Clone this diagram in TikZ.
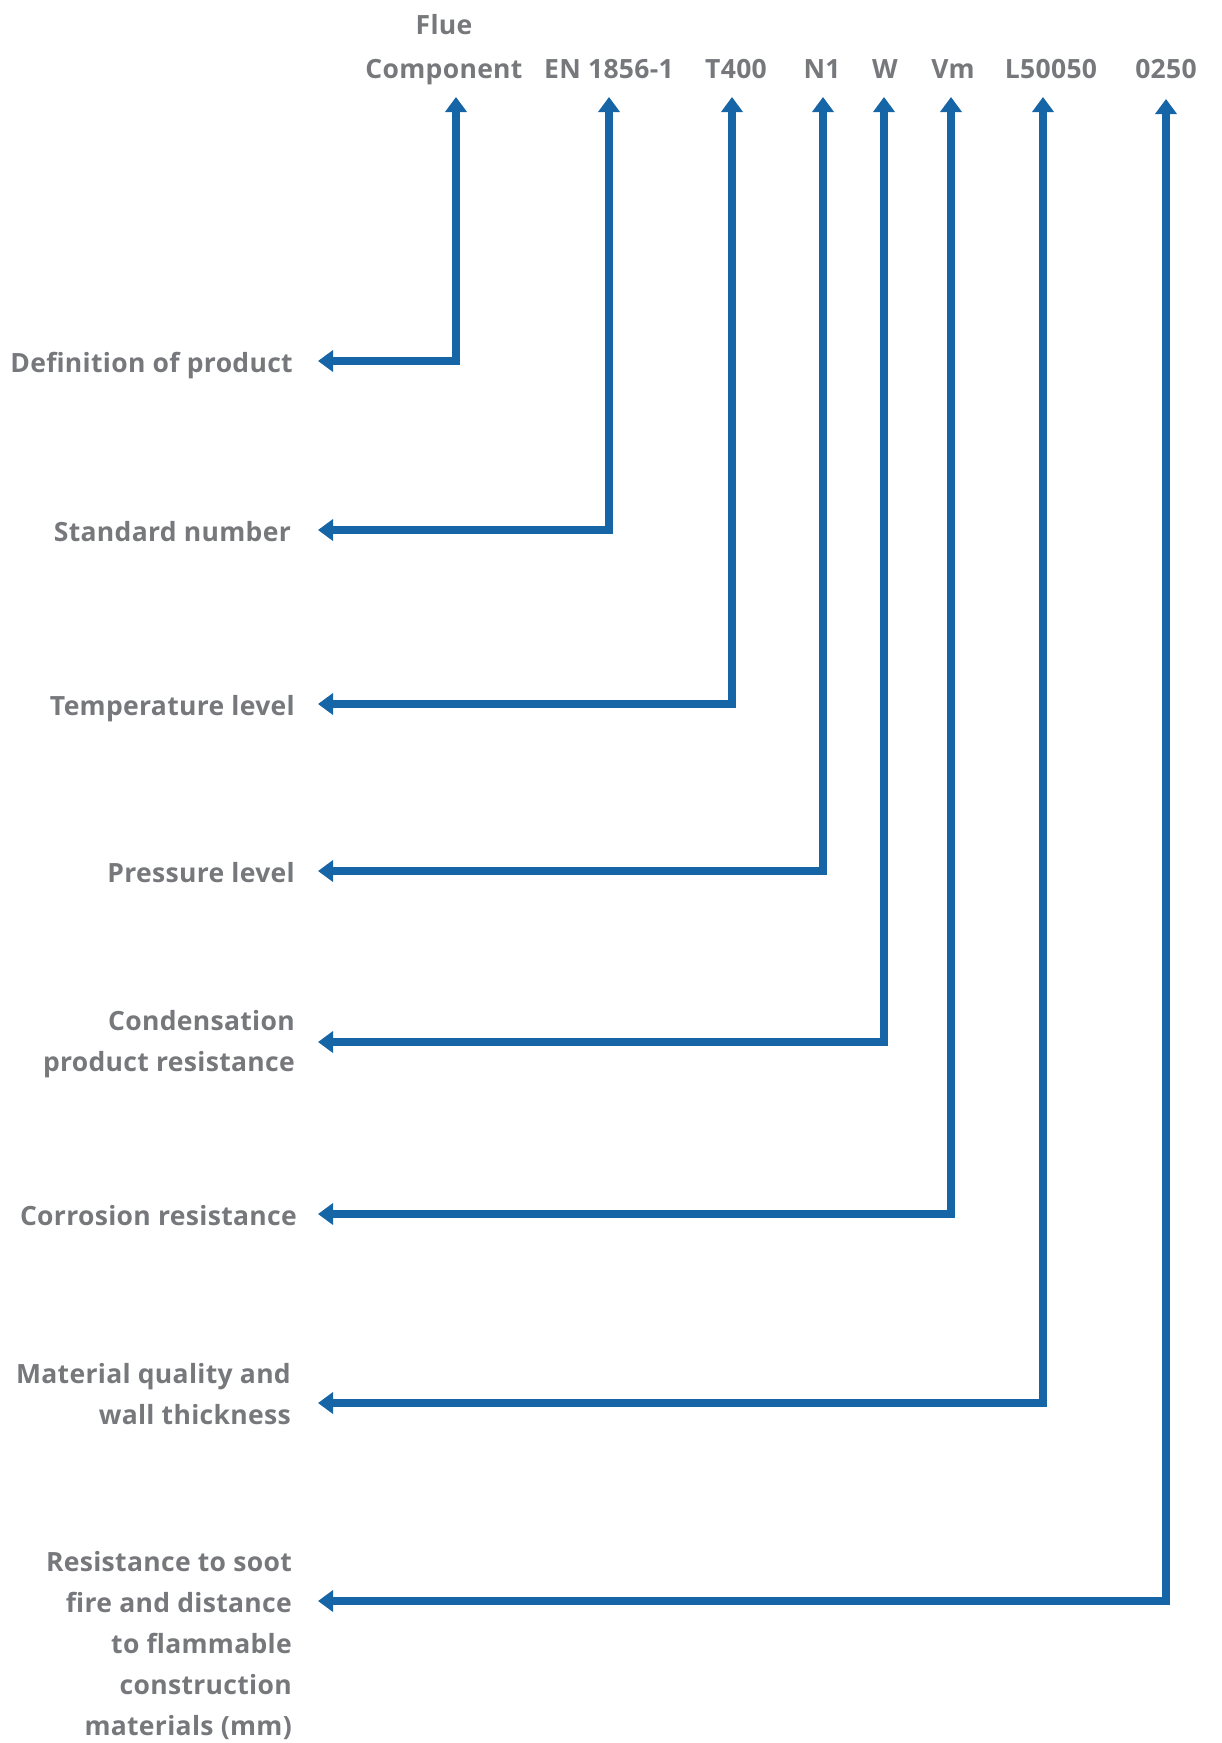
\documentclass[tikz,border=0pt]{standalone}
\usepackage{fontspec}
\setmainfont{Open Sans}[LetterSpace=1.2]
\usetikzlibrary{arrows.meta}
\definecolor{fblue}{HTML}{1666A7}
\definecolor{fgray}{HTML}{76787C}
\begin{document}
\begin{tikzpicture}[x=1pt,y=-1pt,
  conn/.style={draw=fblue, line width=8.5pt,
    {Triangle[length=15pt,width=21pt]}-{Triangle[length=15pt,width=21pt]}},
  lab/.style={text=fgray, font=\fontsize{26.5}{41}\selectfont\bfseries,
    inner sep=0pt, align=right, anchor=base east},
  code/.style={text=fgray, font=\fontsize{26.5}{44}\selectfont\bfseries,
    inner sep=0pt, anchor=base}]
\useasboundingbox (0,0) rectangle (1222,1743);
% top codes
\node[code] (flue) at (444,34) {Flue};
\node[code] (c1) at (444,78) {Component};
\node[code] (c2) at (609,78) {EN 1856-1};
\node[code] (c3) at (736,78) {T400};
\node[code] (c4) at (822,78) {N1};
\node[code] (c5) at (885,78) {W};
\node[code] (c6) at (953,78) {Vm};
\node[code] (c7) at (1051,78) {L50050};
\node[code] (c8) at (1166,78) {0250};
% left labels (anchored at the baseline of the last line)
\node[lab] (l1) at (293,372) {Definition of product};
\node[lab] (l2) at (291,541) {Standard number};
\node[lab] (l3) at (295,715) {Temperature level};
\node[lab] (l4) at (295,882) {Pressure level};
\node[lab] (l5) at (295,1071) {Condensation\\product resistance};
\node[lab] (l6) at (297,1225) {Corrosion resistance};
\node[lab] (l7) at (291,1424) {Material quality and\\wall thickness};
\node[lab] (l8) at (292,1735) {Resistance to soot\\fire and distance\\to flammable\\construction\\materials (mm)};
% arrow ends
\coordinate (t1) at (456,97);
\coordinate (t2) at (609,97);
\coordinate (t3) at (732,97);
\coordinate (t4) at (823,97);
\coordinate (t5) at (884,97);
\coordinate (t6) at (951,97);
\coordinate (t7) at (1043,97);
\coordinate (t8) at (1166,99);
\coordinate (e1) at (318,361);
\coordinate (e2) at (318,530);
\coordinate (e3) at (318,704);
\coordinate (e4) at (318,871);
\coordinate (e5) at (318,1042);
\coordinate (e6) at (318,1214);
\coordinate (e7) at (318,1403);
\coordinate (e8) at (318,1601);
\foreach \i in {1,...,8} {\draw[conn] (t\i) |- (e\i);}
\end{tikzpicture}
\end{document}
